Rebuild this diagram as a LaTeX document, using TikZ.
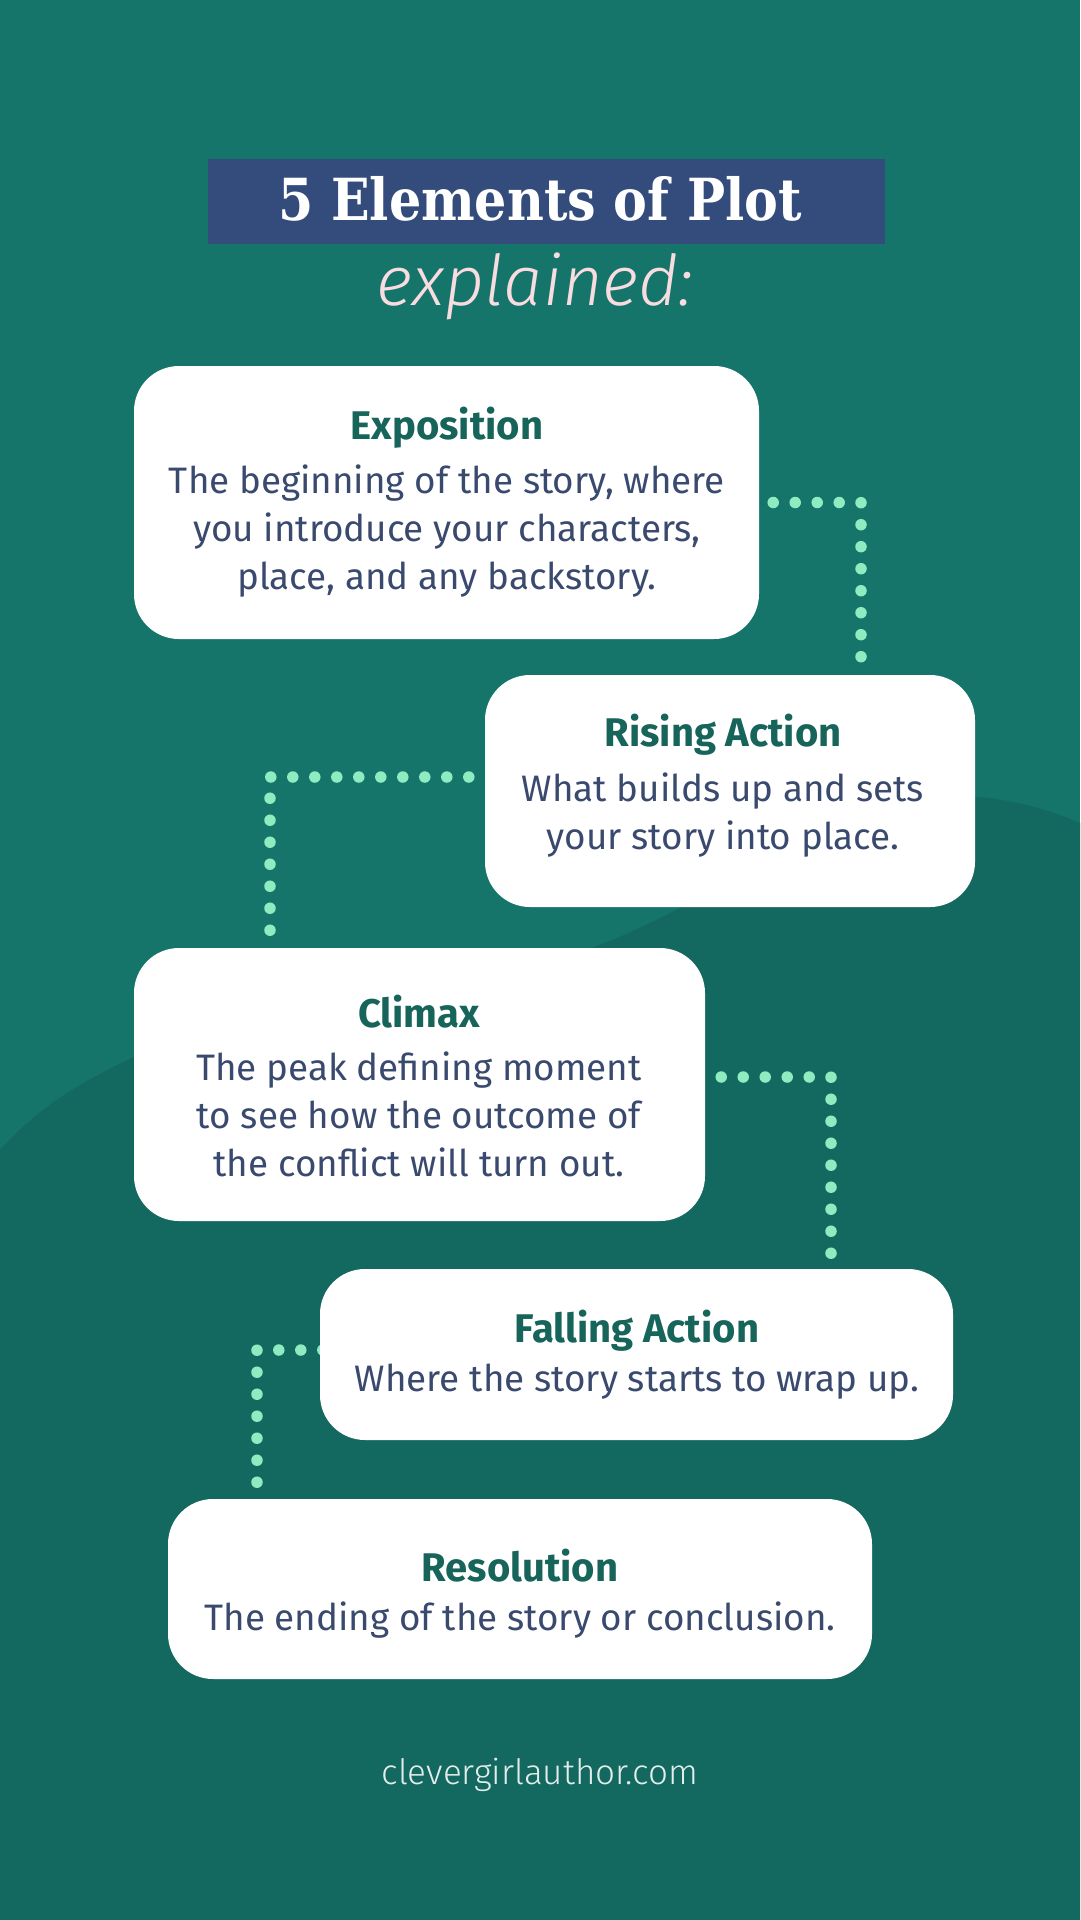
\documentclass[tikz,border=0pt]{standalone}
\usepackage{fontspec}
\usetikzlibrary{backgrounds}
\setmainfont{Fira Sans}
\newfontfamily\titlefont[FakeStretch=0.875]{DejaVu Serif}
\newfontfamily\handfont{Fira Sans Light}
\newfontfamily\sitefont{Fira Sans Light}
\definecolor{bgtop}{HTML}{15756A}
\definecolor{bgdark}{HTML}{13695F}
\definecolor{titleblue}{HTML}{344C7C}
\definecolor{bodyblue}{HTML}{3A4A6E}
\definecolor{headgreen}{HTML}{17645A}
\definecolor{dotgreen}{HTML}{8FECC0}
\definecolor{scriptpink}{HTML}{F8DCE0}
\tikzset{
  plotbox/.style={fill=white, rounded corners=45pt, inner sep=0pt},
  plottext/.style={align=center, text=bodyblue, inner sep=0pt,
    font=\fontsize{36.8}{48}\selectfont},
  dotline/.style={dotgreen, line width=11.5pt, line cap=round,
    dash pattern=on 0pt off 22pt},
}
\newcommand{\headline}[2][7pt]{{\fontsize{40}{48}\selectfont\bfseries\color{headgreen}#2}\\[#1]}
\begin{document}
\begin{tikzpicture}[x=1pt,y=-1pt]
  \useasboundingbox (0,0) rectangle (1080,1920);
  \begin{pgfonlayer}{background}
    \fill[bgtop] (0,0) rectangle (1080,1920);
    \fill[bgdark] (0,1150) .. controls (40,1105) and (85,1080) .. (134,1057)
      .. controls (300,1000) and (500,990) .. (599,945)
      .. controls (720,900) and (850,790) .. (978,797)
      .. controls (1015,800) and (1050,810) .. (1080,823)
      -- (1080,1920) -- (0,1920) -- cycle;
  \end{pgfonlayer}

  \node[fill=titleblue, minimum width=677pt, minimum height=85pt, inner sep=0pt] (banner) at (546.5,201.5) {};
  \node[text=white, inner sep=0pt, font=\fontsize{58}{60}\selectfont\titlefont\bfseries] (title) at (540,199) {5 Elements of Plot};
  \node[text=scriptpink, inner sep=0pt, anchor=base, font=\fontsize{70}{70}\selectfont\handfont\itshape] (subtitle) at (535,305) {explained:};

  \node[plotbox, minimum width=625pt, minimum height=273pt] (expo) at (446.5,502.5) {};
  \node[plotbox, minimum width=490pt, minimum height=232pt] (rising) at (730,791) {};
  \node[plotbox, minimum width=571pt, minimum height=273pt] (climax) at (419.5,1084.5) {};
  \node[plotbox, minimum width=633pt, minimum height=171pt] (falling) at (636.5,1354.5) {};
  \node[plotbox, minimum width=704pt, minimum height=180pt] (resol) at (520,1589) {};

  \node[plottext] (expotext) at (447,502) {\headline[6pt]{Exposition}The beginning of the story, where\\you introduce your characters,\\place, and any backstory.};
  \node[plottext] (risingtext) at (723,786) {\headline{Rising Action}What builds up and sets\\your story into place.};
  \node[plottext] (climaxtext) at (419,1086) {\headline[5pt]{Climax}The peak defining moment\\to see how the outcome of\\the conflict will turn out.};
  \node[plottext] (fallingtext) at (637,1355) {\headline[1pt]{Falling Action}Where the story starts to wrap up.};
  \node[plottext] (resoltext) at (520,1594) {\headline[1pt]{Resolution}The ending of the story or conclusion.};

  \node[text=white!88!bgdark, inner sep=0pt, font=\fontsize{35}{35}\selectfont\sitefont] (site) at (540,1775) {clevergirlauthor.com};

  \begin{pgfonlayer}{background}
    \draw[dotline, shorten <=14pt, shorten >=17pt] (expo.east) -| ([xshift=131pt]rising.north);
    \draw[dotline, shorten <=16pt, shorten >=14.5pt] ([yshift=14pt]rising.west) -| ([xshift=-149.5pt]climax.north);
    \draw[dotline, shorten <=16pt, shorten >=15pt] ([yshift=7.5pt]climax.east) -| ([xshift=194.5pt]falling.north);
    \draw[dotline, shorten <=-3pt, shorten >=16.5pt] ([yshift=4.5pt]falling.west) -| ([xshift=-263pt]resol.north);
  \end{pgfonlayer}
\end{tikzpicture}
\end{document}
